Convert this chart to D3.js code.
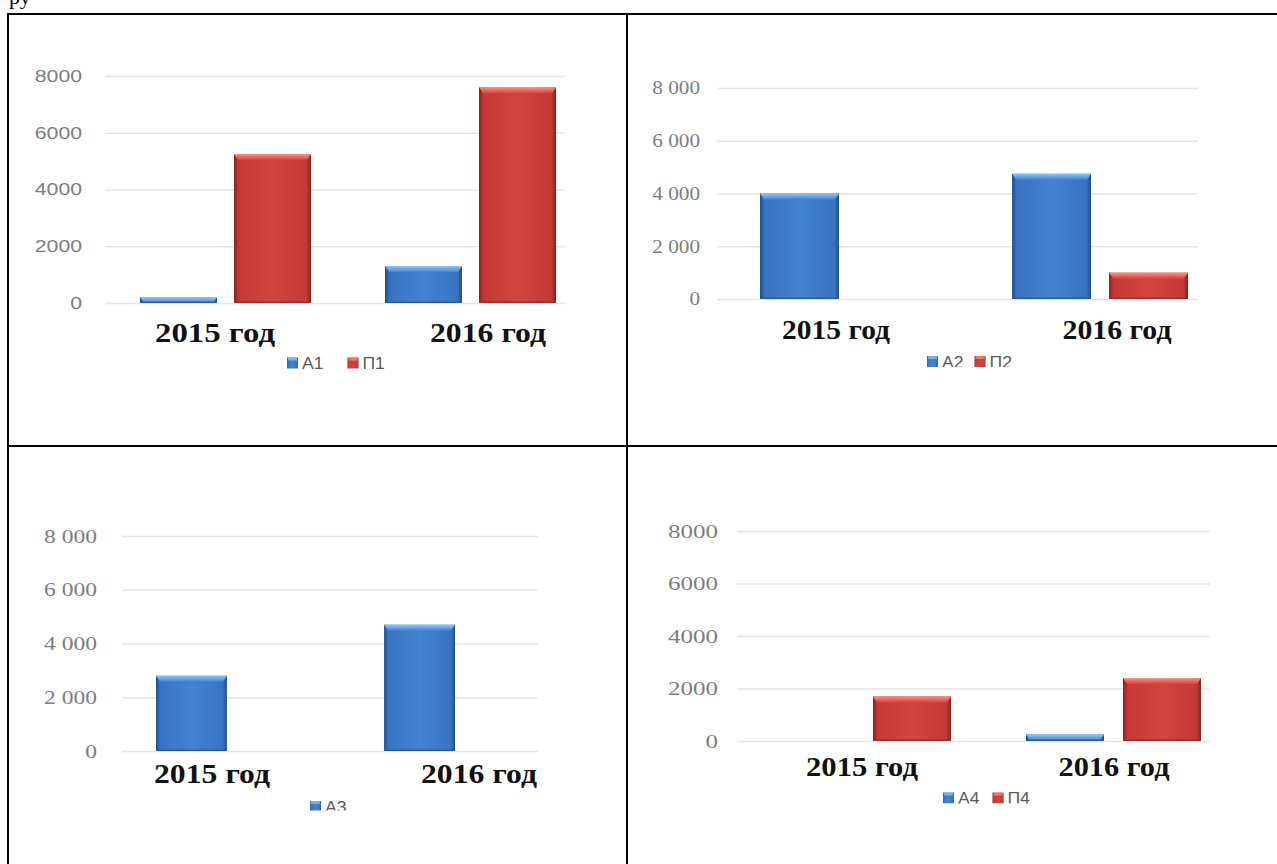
<!DOCTYPE html>
<html>
<head>
<meta charset="utf-8">
<script src="https://cdn.jsdelivr.net/npm/d3@7"></script>
<style>
  html, body { margin: 0; padding: 0; background: #fff; }
  svg { display: block; }
</style>
</head>
<body>
<svg id="page" width="1277" height="864"></svg>
<script>
// ---- data ----
const categories = ["2015 год", "2016 год"];
const tickValues = [0, 2000, 4000, 6000, 8000];

const names1 = ["А1", "П1"];
const a1 = [200, 1300];
const p1 = [5250, 7600];

const names2 = ["А2", "П2"];
const a2 = [4000, 4750];
const p2 = [0, 1000];

const names3 = ["А3"];
const a3 = [2800, 4700];

const names4 = ["А4", "П4"];
const a4 = [0, 250];
const p4 = [1700, 2400];

// ---- styling ----
const SANS = "'Liberation Sans', Arial, sans-serif";
const SERIF = "'Liberation Serif', 'Times New Roman', serif";
const plainFmt = d => String(d);
const spacedFmt = d => d3.format(",")(d).replace(/,/g, " ");

const palette = {
  blue: { edge: "#224d88", body: "#3873c2", mid: "#4483d0", hi: "#93c3f1", base: "#2a5a9a" },
  red:  { edge: "#86211f", body: "#c53835", mid: "#d4443f", hi: "#f4918a", base: "#9c2c29" }
};

// one entry per table cell: series + layout of that chart
const panels = [
  { names: names1, values: [a1, p1], colors: ["blue", "red"],
    yRange: [303, 76], gridX: [105, 565], pad: 23,
    fmt: plainFmt, tickFont: SANS, tickSize: 17, tickSx: 1.25,
    band: [140, 556], groupPad: 0.302, barPad: 0.181,
    catX: [215, 488], catW: [120, 116], catY: 342,
    legendX: 287, legendBase: 369.5, legendGap: 24, clipBottom: 370 },
  { names: names2, values: [a2, p2], colors: ["blue", "red"],
    yRange: [299, 88], gridX: [717, 1198], pad: 17,
    fmt: spacedFmt, tickFont: SERIF, tickSize: 18, tickSx: 1.18,
    band: [760, 1188], groupPad: 0.302, barPad: 0.1856,
    catX: [836, 1117], catW: [108, 109], catY: 339,
    legendX: 927, legendBase: 368, legendGap: 11, clipBottom: 367 },
  { names: names3, values: [a3], colors: ["blue"],
    yRange: [751, 536], gridX: [122, 538], pad: 25,
    fmt: spacedFmt, tickFont: SERIF, tickSize: 19, tickSx: 1.24,
    band: [156, 455], groupPad: 0.689, barPad: 0,
    catX: [212, 479], catW: [116, 116], catY: 783,
    legendX: 310, legendBase: 813, legendGap: 12, clipBottom: 810.5 },
  { names: names4, values: [a4, p4], colors: ["blue", "red"],
    yRange: [741, 531], gridX: [737, 1210], pad: 19,
    fmt: plainFmt, tickFont: SERIF, tickSize: 19, tickSx: 1.32,
    band: [776, 1201], groupPad: 0.3, barPad: 0.196,
    catX: [862, 1114], catW: [112, 111], catY: 776,
    legendX: 943, legendBase: 804.5, legendGap: 13, clipBottom: 803.5 }
];

const svg = d3.select("#page");
const defs = svg.append("defs");

// bevelled bar fills
Object.entries(palette).forEach(([key, c]) => {
  const h = defs.append("linearGradient").attr("id", key + "-h")
    .attr("x1", 0).attr("x2", 1).attr("y1", 0).attr("y2", 0);
  [[0, c.edge], [0.06, c.body], [0.5, c.mid], [0.94, c.body], [1, c.edge]]
    .forEach(([o, col]) => h.append("stop").attr("offset", o).attr("stop-color", col));
  const v = defs.append("linearGradient").attr("id", key + "-v")
    .attr("x1", 0).attr("x2", 0).attr("y1", 0).attr("y2", 1);
  [[0, c.hi], [1, c.mid]]
    .forEach(([o, col]) => v.append("stop").attr("offset", o).attr("stop-color", col));
});

// ---- table frame ----
const frame = svg.append("g").attr("stroke", "#000").attr("stroke-width", 2).attr("fill", "none");
frame.append("line").attr("x1", 7).attr("x2", 1277).attr("y1", 14).attr("y2", 14);
frame.append("line").attr("x1", 8).attr("x2", 8).attr("y1", 13).attr("y2", 864);
frame.append("line").attr("x1", 627).attr("x2", 627).attr("y1", 13).attr("y2", 864);
frame.append("line").attr("x1", 7).attr("x2", 1277).attr("y1", 446).attr("y2", 446);

// tail of the preceding paragraph line above the table
svg.append("text").attr("x", 9).attr("y", 4)
  .attr("font-family", SERIF).attr("font-size", 22).attr("fill", "#000")
  .text("ру");

// ---- charts ----
panels.forEach((P, k) => {
  const g = svg.append("g");
  const y = d3.scaleLinear().domain([0, 8000]).range(P.yRange);
  const x0 = d3.scaleBand().domain(categories).range(P.band)
    .paddingInner(P.groupPad).paddingOuter(0);
  const x1 = d3.scaleBand().domain(P.names).range([0, x0.bandwidth()])
    .paddingInner(P.barPad).paddingOuter(0);
  const gridW = P.gridX[1] - P.gridX[0];

  // gridlines
  g.append("g").attr("transform", `translate(${P.gridX[0]},0)`)
    .call(d3.axisLeft(y).tickValues(tickValues).tickSize(-gridW).tickFormat(""))
    .call(a => a.select(".domain").remove())
    .call(a => a.selectAll("line").attr("stroke", "#e4e4e4").attr("stroke-width", 1.6));

  // value axis labels
  const ax = g.append("g").attr("transform", `translate(${P.gridX[0]},0)`)
    .call(d3.axisLeft(y).tickValues(tickValues).tickSize(0).tickPadding(P.pad).tickFormat(P.fmt));
  ax.select(".domain").remove();
  ax.selectAll("text")
    .attr("font-family", P.tickFont).attr("font-size", P.tickSize)
    .attr("fill", "#7d7d7d")
    .attr("x", -P.pad / P.tickSx)
    .attr("transform", `scale(${P.tickSx},1)`);

  // bars
  const rows = P.names.flatMap((name, s) =>
    categories.map((cat, i) => ({ name, cat, value: P.values[s][i], color: P.colors[s] })))
    .filter(d => d.value > 0);

  const bar = g.append("g").selectAll("g.bar").data(rows).join("g").attr("class", "bar")
    .attr("transform", d => `translate(${x0(d.cat) + x1(d.name)},${y(d.value)})`);
  const bw = x1.bandwidth();
  const bh = d => y(0) - y(d.value);

  bar.append("rect")
    .attr("width", bw).attr("height", bh)
    .attr("fill", d => `url(#${d.color}-h)`);
  // top bevel
  bar.append("path")
    .attr("d", d => {
      const t = Math.min(6, bh(d));
      return `M0,0H${bw}L${bw - 4},${t}H4Z`;
    })
    .attr("fill", d => `url(#${d.color}-v)`);
  // darker foot
  bar.append("rect")
    .attr("y", d => Math.max(0, bh(d) - 1.5)).attr("width", bw).attr("height", d => Math.min(1.5, bh(d)))
    .attr("fill", d => palette[d.color].base);

  // category labels
  g.append("g").selectAll("text").data(categories).join("text")
    .attr("x", (d, i) => P.catX[i]).attr("y", P.catY)
    .attr("text-anchor", "middle")
    .attr("font-family", SERIF).attr("font-weight", "bold").attr("font-size", 27)
    .attr("fill", "#111")
    .attr("textLength", (d, i) => P.catW[i]).attr("lengthAdjust", "spacingAndGlyphs")
    .text(d => d);

  // legend, cut at the bottom of the chart picture
  const clipId = "clip" + k;
  defs.append("clipPath").attr("id", clipId).append("rect")
    .attr("x", P.gridX[0] - 120).attr("y", P.clipBottom - 60)
    .attr("width", gridW + 240).attr("height", 60);
  const lg = g.append("g").attr("clip-path", `url(#${clipId})`);
  let cx = P.legendX;
  P.names.forEach((name, s) => {
    const col = P.colors[s];
    lg.append("rect")
      .attr("x", cx).attr("y", P.legendBase - 12).attr("width", 11).attr("height", 11)
      .attr("fill", `url(#${col}-h)`);
    lg.append("rect")
      .attr("x", cx + 1).attr("y", P.legendBase - 12).attr("width", 9).attr("height", 3)
      .attr("fill", palette[col].hi).attr("opacity", 0.7);
    const sx = 1.1;
    const t = lg.append("text")
      .attr("x", (cx + 15) / sx).attr("y", P.legendBase)
      .attr("transform", `scale(${sx},1)`)
      .attr("font-family", SANS).attr("font-size", 16).attr("fill", "#5a5a5a")
      .text(name);
    const tw = t.node().getComputedTextLength() * sx;
    cx += 15 + tw + P.legendGap;
  });
});
</script>
</body>
</html>
